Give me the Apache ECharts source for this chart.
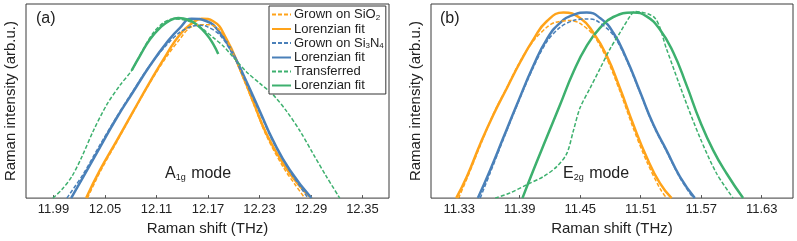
<!DOCTYPE html>
<html><head><meta charset="utf-8">
<script src="https://cdn.jsdelivr.net/npm/echarts@6/dist/echarts.min.js"></script>
<style>html,body{margin:0;padding:0;background:#fff}#c{width:797px;height:241px}</style>
</head><body><div id="c"></div>
<script>
// ---- tick labels ----
const ticksA = [11.99, 12.05, 12.11, 12.17, 12.23, 12.29, 12.35];
const ticksB = [11.33, 11.39, 11.45, 11.51, 11.57, 11.63];

// ---- panel (a): A1g mode ----
const aSiO2 = [[12.0296,0],[12.0443,13.5],[12.0638,29],[12.0831,44.5],[12.1025,59.5],[12.122,73],[12.1374,82],[12.148,87.5],[12.16,89.3],[12.172,89.3],[12.1825,87],[12.1918,81.5],[12.2072,66],[12.2227,49],[12.2383,32],[12.2576,16],[12.2715,7],[12.2829,0]];
const aFitSiO2 = [[12.0281,0],[12.0443,14.5],[12.0638,29.6],[12.0831,44.8],[12.1025,59.9],[12.122,74.2],[12.1374,84.3],[12.151,89.9],[12.1627,92.4],[12.1762,91.1],[12.1918,81.8],[12.2072,66.7],[12.2227,49.8],[12.2383,33.0],[12.2576,17.8],[12.2771,6.1],[12.2907,0]];
const aSi3N4 = [[12.0056,0],[12.0249,12.5],[12.0443,27.5],[12.0638,42],[12.0831,55.5],[12.1025,68.5],[12.122,79],[12.1374,85.5],[12.151,88.5],[12.16,89],[12.1685,88.5],[12.184,84],[12.1995,73.5],[12.215,59],[12.2305,44],[12.246,29],[12.2654,14],[12.2865,0]];
const aFitSi3N4 = [[12.0106,0],[12.0249,11.1],[12.0443,26.3],[12.0638,41.4],[12.0831,54.9],[12.1025,68.3],[12.122,80.1],[12.1374,87.7],[12.151,92.4],[12.1685,91.1],[12.184,85.2],[12.1995,74.2],[12.215,59.9],[12.2305,44.8],[12.246,29.6],[12.2654,14.5],[12.2907,0]];
const aTrans = [[11.9893,0],[11.9998,4.4],[12.0114,11.1],[12.023,21.2],[12.0365,34.7],[12.0521,48.1],[12.0676,58.2],[12.0812,65.8],[12.0947,76.8],[12.1064,85.2],[12.118,90.3],[12.1296,92.3],[12.1413,91.9],[12.1529,90.3],[12.1645,86.9],[12.1762,82.7],[12.1878,78.4],[12.1995,72.6],[12.215,65.0],[12.2305,59.1],[12.246,53.2],[12.2616,44.8],[12.2771,34.7],[12.2925,22.9],[12.3081,11.1],[12.3236,0]];
const aFitTrans = [[12.0812,65.8],[12.0909,73.4],[12.1025,81.8],[12.1142,87.7],[12.1258,91.6],[12.1355,92.8],[12.1471,91.9],[12.1569,89.4],[12.1685,84.3],[12.1762,79.3],[12.182,74.2]];

// ---- panel (b): E2g mode ----
const bSiO2 = [[11.3293,0],[11.3376,10],[11.3508,27],[11.364,43.5],[11.3772,57],[11.3904,70.5],[11.4036,81],[11.4168,88],[11.425,90.5],[11.44,91.5],[11.4498,90],[11.463,84],[11.4762,72],[11.4894,55],[11.5026,36],[11.5158,19],[11.529,5],[11.5356,0]];
const bFitSiO2 = [[11.327,0],[11.3376,11.1],[11.3508,27.9],[11.364,43.1],[11.3772,56.6],[11.3904,70.0],[11.4036,81.8],[11.4168,91.1],[11.4333,95.6],[11.4498,92.8],[11.463,85.2],[11.4762,73.4],[11.4894,56.6],[11.5026,38.0],[11.5158,21.2],[11.529,7.7],[11.5406,0]];
const bSi3N4 = [[11.3508,0],[11.3607,13],[11.3739,30.5],[11.3871,47.5],[11.4036,67.5],[11.4168,80.5],[11.43,88],[11.4432,91.5],[11.4564,92.3],[11.466,91.5],[11.4828,84],[11.496,71],[11.5092,54.5],[11.5224,37.5],[11.5356,24],[11.5488,10.5],[11.562,0]];
const bFitSi3N4 = [[11.3485,0],[11.3607,14.5],[11.3739,31.3],[11.3871,48.1],[11.4036,68.3],[11.4168,81.8],[11.43,90.3],[11.4432,94.4],[11.4564,95.6],[11.4696,92.8],[11.4828,85.2],[11.496,71.7],[11.5092,54.9],[11.5224,38.0],[11.5356,24.6],[11.5488,11.1],[11.5636,0]];
const bTrans = [[11.3656,0],[11.3805,2.7],[11.397,6.9],[11.4135,11.1],[11.4267,16.2],[11.4366,22.9],[11.4432,34.7],[11.4498,46.5],[11.4597,56.6],[11.4696,66.7],[11.4795,76.8],[11.4894,85.2],[11.4993,93.6],[11.5043,96.1],[11.524,92.8],[11.5356,76.8],[11.5521,53.2],[11.5686,31.3],[11.5851,12.8],[11.6016,0]];
const bFitTrans = [[11.3927,0],[11.4036,14.5],[11.4168,31.3],[11.43,48.1],[11.4432,65.0],[11.4564,78.4],[11.4696,87.7],[11.4828,93.3],[11.5026,95.6],[11.5158,93.6],[11.529,86.9],[11.5422,75.1],[11.5554,58.2],[11.5687,39.7],[11.5819,24.6],[11.595,12.8],[11.6115,0]];

const ORANGE = '#FFA31A', BLUE = '#4A80B9', GREEN = '#3DB06E';
const FONT = 'Liberation Sans';
const TXT = '#222';

function xAxisFor(idx, min, max, ticks) {
  return {
    type: 'value', gridIndex: idx, min: min, max: max,
    name: 'Raman shift (THz)', nameLocation: 'middle', nameGap: 20,
    nameTextStyle: {fontFamily: FONT, fontSize: 15, color: TXT},
    axisLine: {show: false},
    axisTick: {show: true, inside: true, length: 3, customValues: ticks, lineStyle: {color: '#555'}},
    axisLabel: {customValues: ticks, formatter: v => v.toFixed(2), fontFamily: FONT, fontSize: 13, color: TXT, margin: 5},
    splitLine: {show: false}
  };
}
function yAxisFor(idx) {
  return {
    type: 'value', gridIndex: idx, min: 0, max: 100,
    name: 'Raman intensity (arb.u.)', nameLocation: 'middle', nameGap: 8, nameRotate: 90,
    nameTextStyle: {fontFamily: FONT, fontSize: 15, color: TXT},
    axisLine: {show: false}, axisTick: {show: false}, axisLabel: {show: false}, splitLine: {show: false}
  };
}
function dashed(name, data, color, gi) {
  return {type: 'line', name: name, xAxisIndex: gi, yAxisIndex: gi, data: data, symbol: 'none',
    smooth: 0.3, lineStyle: {color: color, width: 1.5, type: [4, 2]}, itemStyle: {color: color}, z: 3};
}
function solid(name, data, color, gi) {
  return {type: 'line', name: name, xAxisIndex: gi, yAxisIndex: gi, data: data, symbol: 'none',
    smooth: 0.5, lineStyle: {color: color, width: 2.5}, itemStyle: {color: color}, z: 2};
}
const legendLabels = {
  sio2: 'Grown on SiO{sub|2}', fit1: 'Lorenzian fit',
  si3n4: 'Grown on Si{sub|3}N{sub|4}', fit2: 'Lorenzian fit',
  trans: 'Transferred', fit3: 'Lorenzian fit'
};

const chart = echarts.init(document.getElementById('c'), null, {renderer: 'canvas'});
chart.setOption({
  animation: false,
  backgroundColor: '#fff',
  grid: [
    {left: 26, right: 408, top: 4, bottom: 39, show: true, borderColor: '#3a3a3a', borderWidth: 1, containLabel: false},
    {left: 431, right: 4, top: 4, bottom: 39, show: true, borderColor: '#3a3a3a', borderWidth: 1, containLabel: false}
  ],
  xAxis: [xAxisFor(0, 11.958, 12.381, ticksA), xAxisFor(1, 11.302, 11.661, ticksB)],
  yAxis: [yAxisFor(0), yAxisFor(1)],
  legend: {
    orient: 'vertical', left: 269, top: 6, padding: [2, 2, 2, 2], itemGap: 1,
    itemWidth: 19, itemHeight: 12, borderColor: '#333', borderWidth: 1, backgroundColor: '#fff',
    itemStyle: {opacity: 0, borderWidth: 0},
    data: ['sio2', 'fit1', 'si3n4', 'fit2', 'trans', 'fit3'],
    formatter: n => legendLabels[n],
    textStyle: {fontFamily: FONT, fontSize: 13, color: TXT, padding: [0, 0, 0, -2],
      rich: {sub: {fontFamily: FONT, fontSize: 8, color: TXT, verticalAlign: 'bottom', padding: [6, 0, 0, 0]}}}
  },
  graphic: [
    {type: 'text', left: 36, top: 11, style: {text: '(a)', font: '16px ' + FONT, fill: TXT}},
    {type: 'text', left: 440, top: 11, style: {text: '(b)', font: '16px ' + FONT, fill: TXT}},
    {type: 'text', left: 165, top: 166, style: {text: 'A{s|1g} mode', font: '16px ' + FONT, fill: TXT,
      rich: {s: {fontSize: 9, fontFamily: FONT, fill: TXT, verticalAlign: 'bottom', padding: [8, 1, 0, 0]}}}},
    {type: 'text', left: 563, top: 166, style: {text: 'E{s|2g} mode', font: '16px ' + FONT, fill: TXT,
      rich: {s: {fontSize: 9, fontFamily: FONT, fill: TXT, verticalAlign: 'bottom', padding: [8, 1, 0, 0]}}}}
  ],
  series: [
    solid('fit1', aFitSiO2, ORANGE, 0),
    solid('fit2', aFitSi3N4, BLUE, 0),
    solid('fit3', aFitTrans, GREEN, 0),
    dashed('sio2', aSiO2, ORANGE, 0),
    dashed('si3n4', aSi3N4, BLUE, 0),
    dashed('trans', aTrans, GREEN, 0),
    solid('fit1', bFitSiO2, ORANGE, 1),
    solid('fit2', bFitSi3N4, BLUE, 1),
    solid('fit3', bFitTrans, GREEN, 1),
    dashed('sio2', bSiO2, ORANGE, 1),
    dashed('si3n4', bSi3N4, BLUE, 1),
    dashed('trans', bTrans, GREEN, 1)
  ]
});
</script></body></html>
